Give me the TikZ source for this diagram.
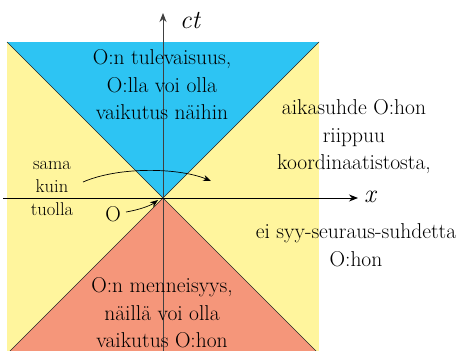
\documentclass[tikz,border=0pt]{standalone}
\usepackage{fontspec}
\usetikzlibrary{arrows.meta}
\definecolor{futblue}{HTML}{2DC4F3}
\definecolor{elseyel}{HTML}{FFF59D}
\definecolor{pastred}{HTML}{F5967A}
\tikzset{
  bigtxt/.style={align=center,font=\fontsize{21.5}{27.5}\selectfont\addfontfeature{FakeBold=0.6},inner sep=0pt},
  smalltxt/.style={align=center,font=\fontsize{18.5}{23}\selectfont\addfontfeature{FakeBold=0.6},inner sep=0pt},
  axlabel/.style={font=\itshape\fontsize{26}{30}\selectfont\addfontfeature{FakeBold=0.6},inner sep=0pt},
  axisline/.style={line width=0.9pt,-{Stealth[length=9pt,width=7pt]}},
  conearrow/.style={line width=0.7pt,-{Stealth[length=8pt,width=6pt]}},
  coneline/.style={line width=0.6pt,black!85}
}
\begin{document}
\begin{tikzpicture}[x=1pt,y=-1pt]
\useasboundingbox (0,0) rectangle (469,351);
\clip (0,0) rectangle (469,351);
\fill[white] (0,0) rectangle (469,351);
% regions
\coordinate (O) at (163,198);
\coordinate (tl) at (7,42);
\coordinate (tr) at (319,42);
\coordinate (bl) at (7,354);
\coordinate (br) at (319,354);
\fill[elseyel] (tl) rectangle (br);
\fill[futblue] (O) -- (tl) -- (tr) -- cycle;
\fill[pastred] (O) -- (bl) -- (br) -- cycle;
\draw[coneline] (tl) -- (O) -- (br);
\draw[coneline] (tr) -- (O) -- (bl);
% axes
\coordinate (ybot) at (163,351);
\coordinate (ytop) at (163,13);
\coordinate (xleft) at (3,198);
\coordinate (xright) at (358,198);
\draw[axisline,black!75] (ybot) -- (ytop);
\draw[axisline] (xleft) -- (xright);
\node[axlabel] (ct) at (190,21) {ct};
\node[axlabel] (xl) at (370,197) {x};
% texts
\node[bigtxt] (fut) at (162,85) {O:n tulevaisuus,\\O:lla voi olla\\vaikutus näihin};
\node[bigtxt] (rel) at (354,137) {aikasuhde O:hon\\riippuu\\koordinaatistosta,};
\node[bigtxt] (nocause) at (356,245) {ei syy-seuraus-suhdetta\\O:hon};
\node[bigtxt] (past) at (162,313) {O:n menneisyys,\\näillä voi olla\\vaikutus O:hon};
\node[smalltxt] (same) at (52,188) {sama\\kuin\\tuolla};
\node[bigtxt] (olab) at (113,214) {O};
% arrows
\coordinate (cs) at (83,182);
\coordinate (ce) at (211,181);
\draw[conearrow] (cs) .. controls (120,166) and (180,168) .. (ce);
\coordinate (os) at (126,212);
\coordinate (oe) at (158,200);
\draw[conearrow] (os) .. controls (138,210) and (150,206) .. (oe);
\end{tikzpicture}
\end{document}
